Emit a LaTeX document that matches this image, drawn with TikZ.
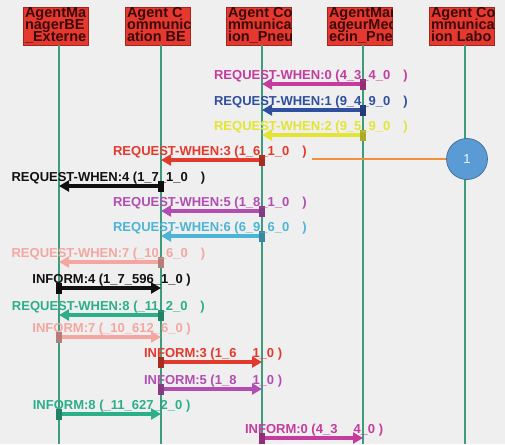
\documentclass[tikz,border=0pt]{standalone}
\usepackage{fontspec}
\setmainfont{Liberation Sans}
\usetikzlibrary{arrows.meta}

\definecolor{bgc}{HTML}{EFEFEF}
\definecolor{lifec}{HTML}{3D9C7C}
\definecolor{hdrfill}{HTML}{E5392F}
\definecolor{hdrtxt}{HTML}{3A0A0A}
\definecolor{cmag}{HTML}{C43C9E}
\definecolor{cblue}{HTML}{2F4F9F}
\definecolor{cyel}{HTML}{E4E433}
\definecolor{cred}{HTML}{E23A2C}
\definecolor{cblk}{HTML}{111111}
\definecolor{cpur}{HTML}{B24EB2}
\definecolor{ccya}{HTML}{4CB5D5}
\definecolor{cpink}{HTML}{F4A7A1}
\definecolor{cteal}{HTML}{2BAF89}
\definecolor{corange}{HTML}{F0903A}
\definecolor{ccirc}{HTML}{5B9BD5}

\tikzset{
  hdr/.style={draw=hdrfill!70!black, line width=0.4pt, fill=hdrfill,
    minimum width=65pt, minimum height=38pt, inner sep=0pt},
  hdrtext/.style={text=hdrtxt, inner sep=0pt, anchor=base west,
    font=\bfseries\fontsize{14.5}{14.5}\selectfont},
  lifeline/.style={draw=lifec, line width=1.5pt},
  blk/.style={minimum width=6pt, minimum height=11pt, inner sep=0pt},
  msgline/.style={line width=4pt, -{Triangle[length=10pt,width=11pt]}},
  lbl/.style={inner sep=0pt, anchor=base, yshift=5pt,
    font=\bfseries\fontsize{13}{14}\selectfont},
  marker/.style={circle, fill=ccirc, draw=ccirc!70!black, line width=0.7pt,
    minimum size=41pt, inner sep=0pt, text=white!92!ccirc,
    font=\fontsize{13}{14}\selectfont}
}

% header box: name, centre x, lifeline x, three text lines
\newcommand\hdrbox[6]{%
  \node[hdr] (#1) at (#2,26) {};
  \begin{scope}
    \clip (#1.south west) rectangle ([yshift=4pt]#1.north east);
    \node[hdrtext] (#1l1) at ([xshift=2pt,yshift=-10.5pt]#1.north west) {#4};
    \node[hdrtext] (#1l2) at ([xshift=2pt,yshift=-22.7pt]#1.north west) {#5};
    \node[hdrtext] (#1l3) at ([xshift=2pt,yshift=-34.9pt]#1.north west) {#6};
  \end{scope}
  \coordinate (#1top) at (#3,45);
  \coordinate (#1bot) at (#3,444);
  \draw[lifeline] (#1top) -- (#1bot);
}

% message: name, y, from x, to x, colour, label
\newcommand\sendmsg[6]{%
  \node[blk, fill=#5!75!black] (#1s) at (#3,#2) {};
  \coordinate (#1t) at (#4,#2);
  \draw[msgline, draw=#5, #5] (#1s) -- (#1t)
    node[lbl, midway, text=#5] {#6};
}

\begin{document}
\begin{tikzpicture}[x=1pt,y=-1pt]
  \fill[bgc] (0,0) rectangle (505,444);
  \useasboundingbox (0,0) rectangle (505,444);

  \hdrbox{la}{55.5}{59}{AgentMa}{nagerBE}{\_Externe}
  \hdrbox{lb}{157.5}{161}{Agent C}{ommunic}{ation BE}
  \hdrbox{lc}{258.5}{262}{Agent Co}{mmunicat}{ion\_Pneu}
  \hdrbox{ld}{359.5}{363}{AgentMan}{ageurMed}{ecin\_Pne}
  \hdrbox{le}{461.5}{465}{Agent Co}{mmunicat}{ion Labo}

  \sendmsg{m0}{84}{363}{262}{cmag}{REQUEST-WHEN:0 (4\_3\_4\_0\hspace{13pt})}
  \sendmsg{m1}{110}{363}{262}{cblue}{REQUEST-WHEN:1 (9\_4\_9\_0\hspace{13pt})}
  \sendmsg{m2}{135}{363}{262}{cyel}{REQUEST-WHEN:2 (9\_5\_9\_0\hspace{13pt})}
  \sendmsg{m3}{160}{262}{161}{cred}{REQUEST-WHEN:3 (1\_6\_1\_0\hspace{13pt})}
  \sendmsg{m4}{186}{161}{59}{cblk}{REQUEST-WHEN:4 (1\_7\_1\_0\hspace{13pt})}
  \sendmsg{m5}{211}{262}{161}{cpur}{REQUEST-WHEN:5 (1\_8\_1\_0\hspace{13pt})}
  \sendmsg{m6}{236}{262}{161}{ccya}{REQUEST-WHEN:6 (6\_9\_6\_0\hspace{13pt})}
  \sendmsg{m7}{262}{161}{59}{cpink}{REQUEST-WHEN:7 (\_10\_6\_0\hspace{13pt})}
  \sendmsg{i4}{288}{59}{161}{cblk}{INFORM:4 (1\_7\_596\_1\_0 )}
  \sendmsg{m8}{315}{161}{59}{cteal}{REQUEST-WHEN:8 (\_11\_2\_0\hspace{13pt})}
  \sendmsg{i7}{337}{59}{161}{cpink}{INFORM:7 (\_10\_612\_6\_0 )}
  \sendmsg{i3}{362}{161}{262}{cred}{INFORM:3 (1\_6\hspace{16pt}1\_0 )}
  \sendmsg{i5}{389}{161}{262}{cpur}{INFORM:5 (1\_8\hspace{16pt}1\_0 )}
  \sendmsg{i8}{414}{59}{161}{cteal}{INFORM:8 (\_11\_627\_2\_0 )}
  \sendmsg{i0}{438}{262}{363}{cmag}{INFORM:0 (4\_3\hspace{16pt}4\_0 )}

  % numbered marker with its leader line
  \node[marker] (n1) at (467,159) {1};
  \coordinate (n1lead) at (312,159);
  \draw[draw=corange, line width=2.8pt] (n1lead) -- (n1.west);
\end{tikzpicture}
\end{document}
